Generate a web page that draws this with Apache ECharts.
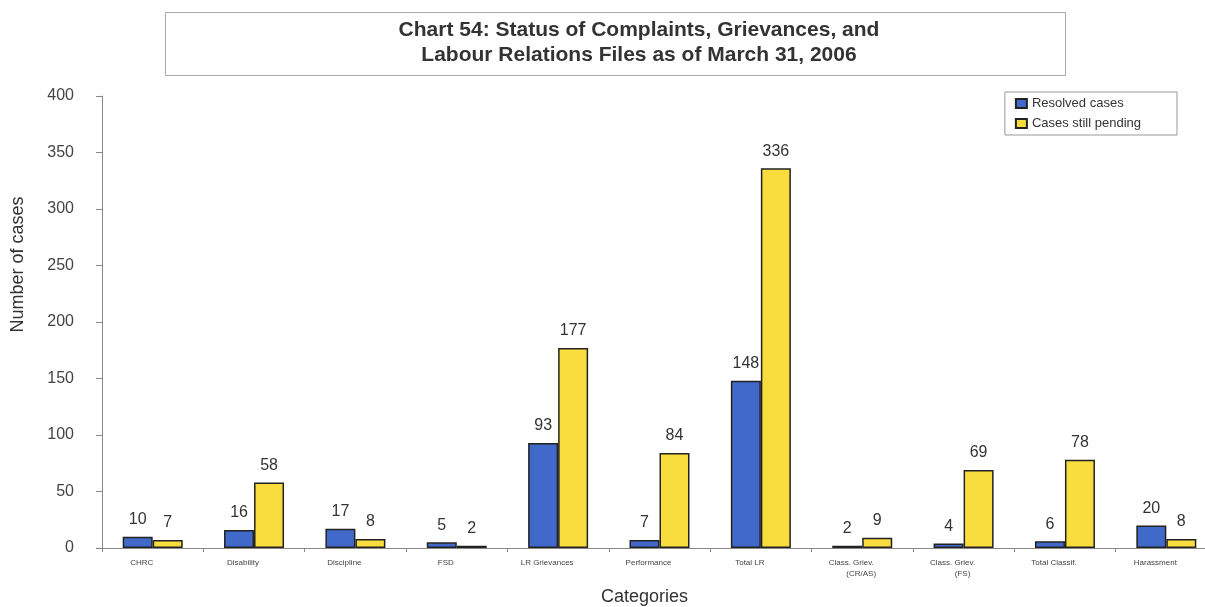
<!DOCTYPE html>
<html>
<head>
<meta charset="utf-8">
<script src="https://cdn.jsdelivr.net/npm/echarts@6/dist/echarts.min.js"></script>
<style>
html,body{margin:0;padding:0;background:#fff;}
#c{width:1205px;height:607px;}
</style>
</head>
<body>
<div id="c"></div>
<script>
const categories = ["CHRC","Disability","Discipline","FSD","LR Grievances","Performance","Total LR","Class. Griev.\n         (CR/AS)","Class. Griev.\n         (FS)","Total Classif.","Harassment"];
const resolved = [10,16,17,5,93,7,148,2,4,6,20];
const pending = [7,58,8,2,177,84,336,9,69,78,8];
const yTicks = [0,50,100,150,200,250,300,350,400];

const FONT = '"Liberation Sans", Arial, sans-serif';
const chart = echarts.init(document.getElementById('c'), null, {renderer:'canvas'});
const labelStyle = {show:true, position:'top', distance:9, color:'#333', fontSize:16, fontFamily:FONT};
chart.setOption({
  backgroundColor:'#fff',
  animation:false,
  graphic:[
    {type:'rect', shape:{x:165.5,y:12.5,width:900,height:63}, style:{fill:'#fff', stroke:'#aaa', lineWidth:1}, z:0},
    {type:'text', style:{text:'Chart 54: Status of Complaints, Grievances, and\nLabour Relations Files as of March 31, 2006', x:639, y:18, textAlign:'center', fill:'#333', font:'bold 21px ' + FONT, lineHeight:25}, z:1}
  ],
  legend:{
    right:28, top:92, orient:'vertical', icon:'rect',
    itemWidth:11, itemHeight:9, itemGap:7,
    padding:[5,36,5,10],
    borderColor:'#999', borderWidth:1,
    textStyle:{color:'#333', fontSize:13, fontFamily:FONT},
    data:['Resolved cases','Cases still pending']
  },
  grid:{left:102, top:96, width:1115, height:452, containLabel:false, outerBoundsMode:'none'},
  xAxis:{
    type:'category', data:categories,
    name:'Categories', nameLocation:'middle', nameGap:40,
    nameTextStyle:{color:'#333', fontSize:18, fontFamily:FONT, padding:[0,30,0,0]},
    axisLine:{lineStyle:{color:'#888'}},
    axisTick:{show:true, alignWithLabel:false, length:4, lineStyle:{color:'#888'}},
    axisLabel:{color:'#444', fontSize:8, margin:9, lineHeight:11, interval:0, fontFamily:FONT, padding:[0,22,0,0]}
  },
  yAxis:{
    type:'value', min:0, max:400, interval:50,
    name:'Number of cases', nameLocation:'middle', nameGap:75, nameRotate:90,
    nameTextStyle:{color:'#333', fontSize:18, fontFamily:FONT, padding:[0,0,0,115]},
    axisLine:{show:true, lineStyle:{color:'#888'}},
    axisTick:{show:true, length:6, lineStyle:{color:'#888'}},
    splitLine:{show:false},
    axisLabel:{color:'#444', fontSize:16, margin:28, fontFamily:FONT,
      formatter:function(v){return yTicks.indexOf(v)>=0?String(v):'';}}
  },
  series:[
    {name:'Resolved cases', type:'bar', data:resolved, barWidth:30, barGap:'0%',
     itemStyle:{color:'#4169c9', borderColor:'#222', borderWidth:1.5}, label:labelStyle},
    {name:'Cases still pending', type:'bar', data:pending, barWidth:30,
     itemStyle:{color:'#f9dd3e', borderColor:'#222', borderWidth:1.5}, label:labelStyle}
  ]
});
</script>
</body>
</html>
